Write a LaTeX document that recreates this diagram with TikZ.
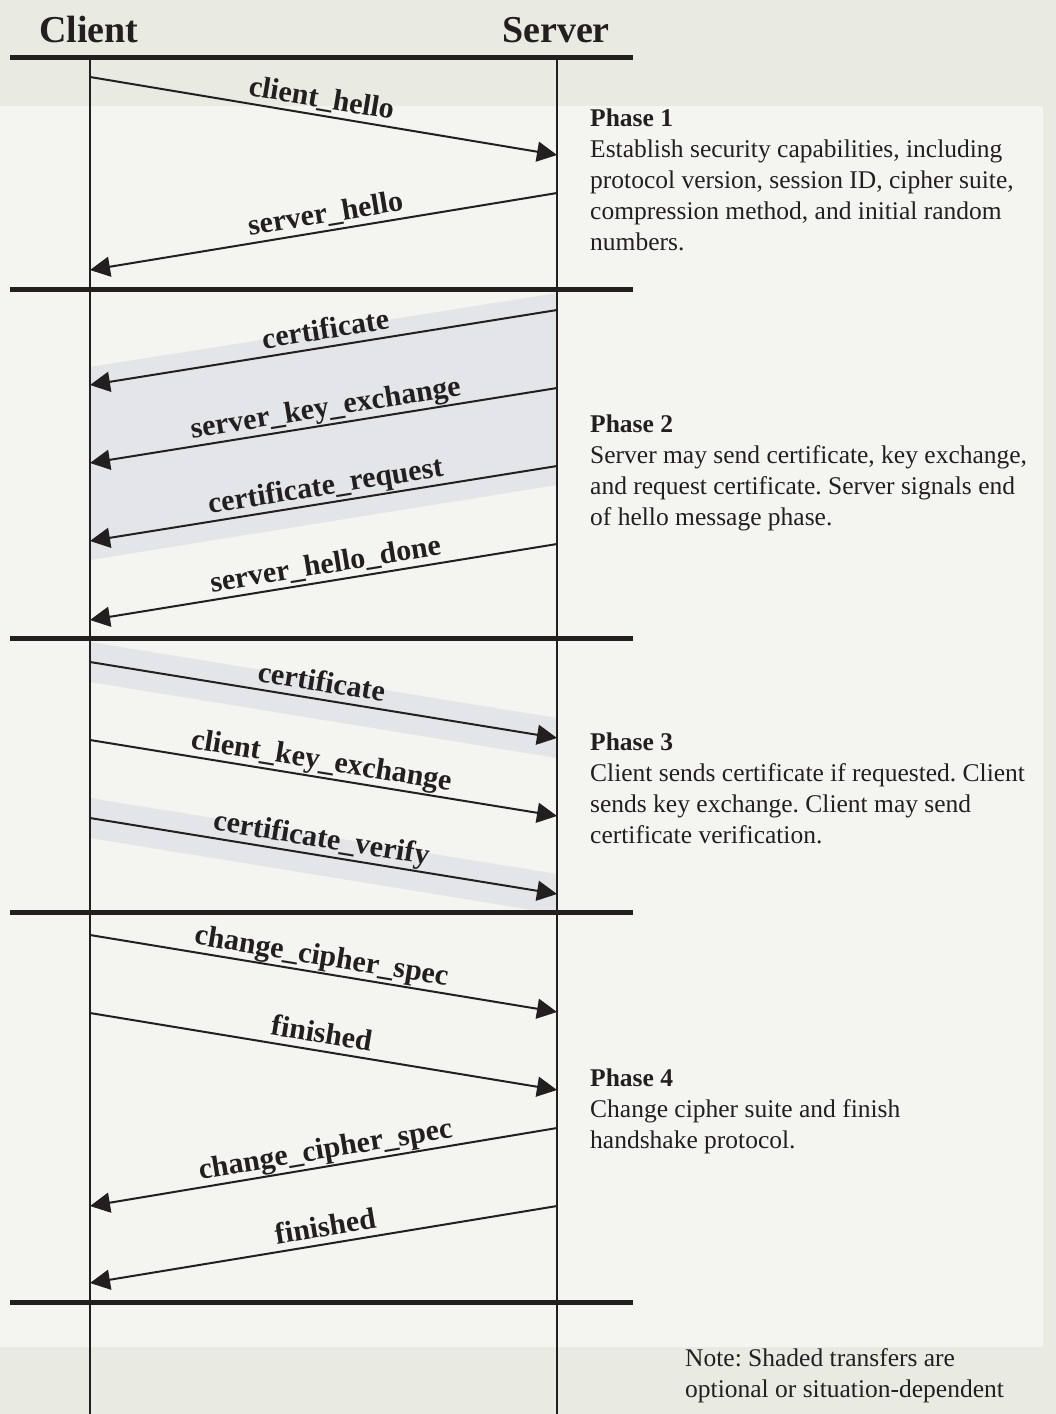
\documentclass[tikz,border=0pt]{standalone}
\usepackage{fontspec}
\setmainfont{Liberation Serif}
\usepackage{tikz}
\usetikzlibrary{arrows.meta, positioning}
\definecolor{tlsInk}{HTML}{231F20}
\definecolor{tlsShade}{HTML}{E4E5E8}
\definecolor{tlsBack}{HTML}{E9EBE2}
\definecolor{tlsPanel}{HTML}{F4F5F0}
\frenchspacing

\begin{document}
\begin{tikzpicture}[
  x=1pt, y=-1pt,
  every node/.style={text=tlsInk},
  lifeline/.style={draw=tlsInk, line width=2pt},
  phasebar/.style={draw=tlsInk, line width=5pt},
  msg/.style={draw=tlsInk, line width=2pt, -{Triangle[length=20pt, width=20pt]}},
  msglabel/.style={
    pos=0.49, sloped, above=7pt, inner sep=0pt, text depth=0pt,
    font=\fontsize{30}{34}\selectfont\bfseries
  },
  optional/.style={fill=tlsShade},
  actor/.style={font=\fontsize{38}{44}\selectfont\bfseries, inner sep=0pt, anchor=base},
  phasetext/.style={font=\fontsize{25.5}{31}\selectfont, align=left, inner sep=0pt, anchor=base west},
]

% Background
\useasboundingbox (0,0) rectangle (1056,1414);
\fill[tlsBack] (0,0) rectangle (1056,1414);
\fill[tlsPanel] (0,106) rectangle (1043,1347);

% Shaded (optional) transfers
\fill[optional] (90,367) -- (557,293) -- (557,485) -- (90,560) -- cycle;
\fill[optional] (90,642) -- (557,718) -- (557,758) -- (90,682) -- cycle;
\fill[optional] (90,798) -- (557,874) -- (557,914) -- (90,838) -- cycle;

% Actors and lifelines
\node[actor] (client) at (89,42) {Client};
\node[actor] (server) at (556,42) {Server};
\coordinate (clientTop) at (90,57);
\coordinate (clientEnd) at (90,1414);
\coordinate (serverTop) at (557,57);
\coordinate (serverEnd) at (557,1414);
\draw[lifeline] (clientTop) -- (clientEnd);
\draw[lifeline] (serverTop) -- (serverEnd);

% Phase separators
\foreach \y in {57, 289, 638, 912, 1302} {
  \draw[phasebar] (10,\y) -- (633,\y);
}

% Message end points on the lifelines
\foreach \i/\yc/\ys in {1/77/155, 2/270/193, 3/385/310, 4/463/388, 5/541/466,
    6/620/544, 7/662/738, 8/740/816, 9/818/894, 10/935/1012, 11/1013/1090,
    12/1206/1128, 13/1283/1206} {
  \coordinate (c\i) at (90,\yc);
  \coordinate (s\i) at (557,\ys);
}

% Phase 1 messages
\draw[msg] (c1) -- node[msglabel] {client\_hello} (s1);
\draw[msg] (s2) -- node[msglabel] {server\_hello} (c2);

% Phase 2 messages
\draw[msg] (s3) -- node[msglabel] {certificate} (c3);
\draw[msg] (s4) -- node[msglabel] {server\_key\_exchange} (c4);
\draw[msg] (s5) -- node[msglabel] {certificate\_request} (c5);
\draw[msg] (s6) -- node[msglabel] {server\_hello\_done} (c6);

% Phase 3 messages
\draw[msg] (c7) -- node[msglabel] {certificate} (s7);
\draw[msg] (c8) -- node[msglabel] {client\_key\_exchange} (s8);
\draw[msg] (c9) -- node[msglabel] {certificate\_verify} (s9);

% Phase 4 messages
\draw[msg] (c10) -- node[msglabel] {change\_cipher\_spec} (s10);
\draw[msg] (c11) -- node[msglabel] {finished} (s11);
\draw[msg] (s12) -- node[msglabel] {change\_cipher\_spec} (c12);
\draw[msg] (s13) -- node[msglabel] {finished} (c13);

% Phase descriptions (anchored at the baseline of the last line)
\node[phasetext] (phase1) at (590,250) {\textbf{Phase 1}\\Establish security capabilities, including\\protocol version, session ID, cipher suite,\\compression method, and initial random\\numbers.};
\node[phasetext] (phase2) at (590,525) {\textbf{Phase 2}\\Server may send certificate, key exchange,\\and request certificate. Server signals end\\of hello message phase.};
\node[phasetext] (phase3) at (590,843) {\textbf{Phase 3}\\Client sends certificate if requested. Client\\sends key exchange. Client may send\\certificate verification.};
\node[phasetext] (phase4) at (590,1148) {\textbf{Phase 4}\\Change cipher suite and finish\\handshake protocol.};

% Note
\node[phasetext] (note) at (685,1397) {Note: Shaded transfers are\\optional or situation-dependent};

\end{tikzpicture}
\end{document}
